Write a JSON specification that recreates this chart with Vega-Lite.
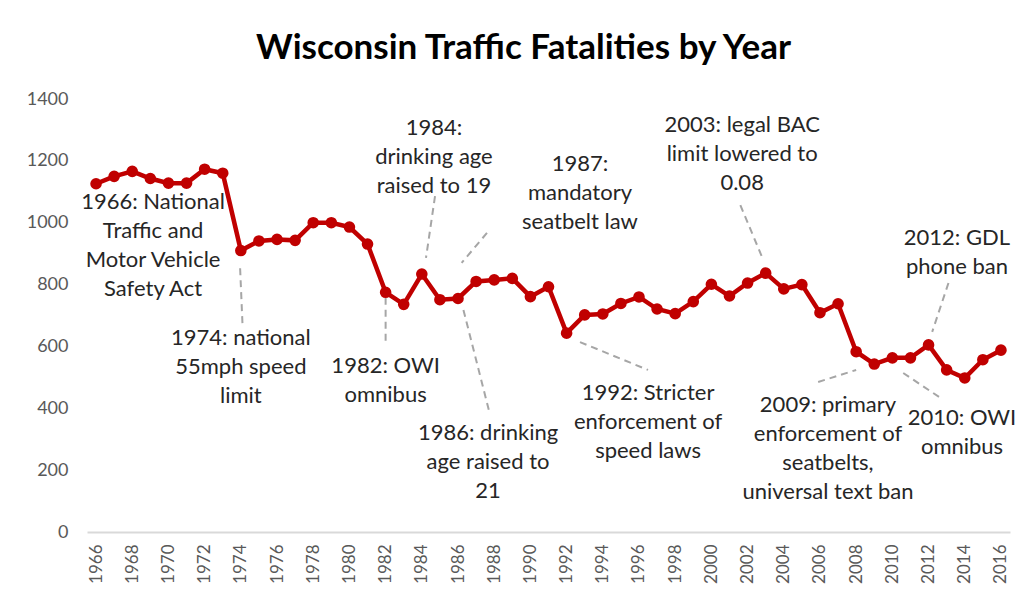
{
  "$schema": "https://vega.github.io/schema/vega-lite/v6.json",
  "width": 923,
  "height": 433,
  "autosize": {"type": "none"},
  "padding": {"left": 87, "top": 99, "right": 13, "bottom": 71},
  "background": "white",
  "title": {"text": "Wisconsin Traffic Fatalities by Year", "font": "Lato", "fontSize": 35, "fontWeight": "bold", "color": "#000000", "anchor": "middle", "offset": 24, "dx": -25},
  "config": {"view": {"stroke": null}, "font": "Lato"},
  "datasets": {
    "fatalities": [
      {"year": 1966, "deaths": 1126}, {"year": 1967, "deaths": 1150}, {"year": 1968, "deaths": 1166}, {"year": 1969, "deaths": 1143},
      {"year": 1970, "deaths": 1128}, {"year": 1971, "deaths": 1128}, {"year": 1972, "deaths": 1173}, {"year": 1973, "deaths": 1160},
      {"year": 1974, "deaths": 910}, {"year": 1975, "deaths": 941}, {"year": 1976, "deaths": 946}, {"year": 1977, "deaths": 943},
      {"year": 1978, "deaths": 1000}, {"year": 1979, "deaths": 1000}, {"year": 1980, "deaths": 986}, {"year": 1981, "deaths": 931},
      {"year": 1982, "deaths": 775}, {"year": 1983, "deaths": 736}, {"year": 1984, "deaths": 834}, {"year": 1985, "deaths": 751},
      {"year": 1986, "deaths": 755}, {"year": 1987, "deaths": 810}, {"year": 1988, "deaths": 815}, {"year": 1989, "deaths": 820},
      {"year": 1990, "deaths": 761}, {"year": 1991, "deaths": 793}, {"year": 1992, "deaths": 643}, {"year": 1993, "deaths": 702},
      {"year": 1994, "deaths": 705}, {"year": 1995, "deaths": 739}, {"year": 1996, "deaths": 760}, {"year": 1997, "deaths": 721},
      {"year": 1998, "deaths": 706}, {"year": 1999, "deaths": 745}, {"year": 2000, "deaths": 801}, {"year": 2001, "deaths": 763},
      {"year": 2002, "deaths": 805}, {"year": 2003, "deaths": 837}, {"year": 2004, "deaths": 786}, {"year": 2005, "deaths": 800},
      {"year": 2006, "deaths": 709}, {"year": 2007, "deaths": 738}, {"year": 2008, "deaths": 583}, {"year": 2009, "deaths": 543},
      {"year": 2010, "deaths": 563}, {"year": 2011, "deaths": 563}, {"year": 2012, "deaths": 605}, {"year": 2013, "deaths": 524},
      {"year": 2014, "deaths": 498}, {"year": 2015, "deaths": 557}, {"year": 2016, "deaths": 588}
    ],
    "notes": [
      {"x": 1969.15, "y": 1067, "label": "1966: National\nTraffic and\nMotor Vehicle\nSafety Act"},
      {"x": 1974.0, "y": 627, "label": "1974: national\n55mph speed\nlimit"},
      {"x": 1982.0, "y": 537, "label": "1982: OWI\nomnibus"},
      {"x": 1984.67, "y": 1306, "label": "1984:\ndrinking age\nraised to 19"},
      {"x": 1992.74, "y": 1190, "label": "1987:\nmandatory\nseatbelt law"},
      {"x": 1987.66, "y": 320, "label": "1986: drinking\nage raised to\n21"},
      {"x": 1996.5, "y": 449, "label": "1992: Stricter\nenforcement of\nspeed laws"},
      {"x": 2001.7, "y": 1316, "label": "2003: legal BAC\nlimit lowered to\n0.08"},
      {"x": 2013.57, "y": 951, "label": "2012: GDL\nphone ban"},
      {"x": 2006.44, "y": 411, "label": "2009: primary\nenforcement of\nseatbelts,\nuniversal text ban"},
      {"x": 2013.85, "y": 369, "label": "2010: OWI\nomnibus"}
    ],
    "leaders": [
      {"x1": 1973.96, "y1": 853, "x2": 1974.1, "y2": 660},
      {"x1": 1982.0, "y1": 757, "x2": 1982.0, "y2": 605},
      {"x1": 1984.73, "y1": 1086, "x2": 1984.23, "y2": 886},
      {"x1": 1987.6, "y1": 967, "x2": 1986.2, "y2": 870},
      {"x1": 1986.3, "y1": 718, "x2": 1987.7, "y2": 395},
      {"x1": 1992.74, "y1": 614, "x2": 1996.5, "y2": 524},
      {"x1": 2001.6, "y1": 1057, "x2": 2002.8, "y2": 889},
      {"x1": 2013.1, "y1": 805, "x2": 2012.2, "y2": 647},
      {"x1": 2005.9, "y1": 485, "x2": 2008.0, "y2": 524},
      {"x1": 2010.6, "y1": 514, "x2": 2012.6, "y2": 436}
    ]
  },
  "layer": [
    {
      "data": {"name": "leaders"},
      "mark": {"type": "rule", "color": "#A6A6A6", "strokeWidth": 2, "strokeDash": [7, 5]},
      "encoding": {
        "x": {"field": "x1", "type": "quantitative", "scale": {"domain": [1965.5, 2016.5], "nice": false, "zero": false},
          "axis": {"values": [1966,1968,1970,1972,1974,1976,1978,1980,1982,1984,1986,1988,1990,1992,1994,1996,1998,2000,2002,2004,2006,2008,2010,2012,2014,2016],
            "format": "d", "labelAngle": -90, "labelAlign": "right", "labelBaseline": "middle", "labelPadding": 12, "ticks": false,
            "domainColor": "#D9D9D9", "domainWidth": 2, "grid": false, "title": null, "labelColor": "#595959", "labelFontSize": 17, "labelFont": "Lato", "labelOverlap": false}},
        "y": {"field": "y1", "type": "quantitative", "scale": {"domain": [0, 1400], "nice": false},
          "axis": {"values": [0,200,400,600,800,1000,1200,1400], "format": "d", "domain": false, "ticks": false, "grid": false, "labelPadding": 19,
            "labelFontSize": 18, "labelColor": "#595959", "labelFont": "Lato", "title": null}},
        "x2": {"field": "x2"},
        "y2": {"field": "y2"}
      }
    },
    {
      "data": {"name": "fatalities"},
      "mark": {"type": "line", "color": "#C00000", "strokeWidth": 4.5},
      "encoding": {
        "x": {"field": "year", "type": "quantitative", "scale": {"domain": [1965.5, 2016.5], "nice": false, "zero": false},
          "axis": {"values": [1966,1968,1970,1972,1974,1976,1978,1980,1982,1984,1986,1988,1990,1992,1994,1996,1998,2000,2002,2004,2006,2008,2010,2012,2014,2016],
            "format": "d", "labelAngle": -90, "labelAlign": "right", "labelBaseline": "middle", "labelPadding": 12, "ticks": false,
            "domainColor": "#D9D9D9", "domainWidth": 2, "grid": false, "title": null, "labelColor": "#595959", "labelFontSize": 17, "labelFont": "Lato", "labelOverlap": false}},
        "y": {"field": "deaths", "type": "quantitative", "scale": {"domain": [0, 1400], "nice": false},
          "axis": {"values": [0,200,400,600,800,1000,1200,1400], "format": "d", "domain": false, "ticks": false, "grid": false, "labelPadding": 19,
            "labelFontSize": 18, "labelColor": "#595959", "labelFont": "Lato", "title": null}}
      }
    },
    {
      "data": {"name": "fatalities"},
      "mark": {"type": "circle", "color": "#C00000", "size": 135, "opacity": 1},
      "encoding": {
        "x": {"field": "year", "type": "quantitative", "scale": {"domain": [1965.5, 2016.5], "nice": false, "zero": false},
          "axis": {"values": [1966,1968,1970,1972,1974,1976,1978,1980,1982,1984,1986,1988,1990,1992,1994,1996,1998,2000,2002,2004,2006,2008,2010,2012,2014,2016],
            "format": "d", "labelAngle": -90, "labelAlign": "right", "labelBaseline": "middle", "labelPadding": 12, "ticks": false,
            "domainColor": "#D9D9D9", "domainWidth": 2, "grid": false, "title": null, "labelColor": "#595959", "labelFontSize": 17, "labelFont": "Lato", "labelOverlap": false}},
        "y": {"field": "deaths", "type": "quantitative", "scale": {"domain": [0, 1400], "nice": false},
          "axis": {"values": [0,200,400,600,800,1000,1200,1400], "format": "d", "domain": false, "ticks": false, "grid": false, "labelPadding": 19,
            "labelFontSize": 18, "labelColor": "#595959", "labelFont": "Lato", "title": null}}
      }
    },
    {
      "data": {"name": "notes"},
      "mark": {"type": "text", "font": "Lato", "fontSize": 22, "lineHeight": 29, "color": "#262626", "baseline": "middle", "align": "center", "lineBreak": "\n"},
      "encoding": {
        "x": {"field": "x", "type": "quantitative", "scale": {"domain": [1965.5, 2016.5], "nice": false, "zero": false},
          "axis": {"values": [1966,1968,1970,1972,1974,1976,1978,1980,1982,1984,1986,1988,1990,1992,1994,1996,1998,2000,2002,2004,2006,2008,2010,2012,2014,2016],
            "format": "d", "labelAngle": -90, "labelAlign": "right", "labelBaseline": "middle", "labelPadding": 12, "ticks": false,
            "domainColor": "#D9D9D9", "domainWidth": 2, "grid": false, "title": null, "labelColor": "#595959", "labelFontSize": 17, "labelFont": "Lato", "labelOverlap": false}},
        "y": {"field": "y", "type": "quantitative", "scale": {"domain": [0, 1400], "nice": false},
          "axis": {"values": [0,200,400,600,800,1000,1200,1400], "format": "d", "domain": false, "ticks": false, "grid": false, "labelPadding": 19,
            "labelFontSize": 18, "labelColor": "#595959", "labelFont": "Lato", "title": null}},
        "text": {"field": "label"}
      }
    }
  ]
}
